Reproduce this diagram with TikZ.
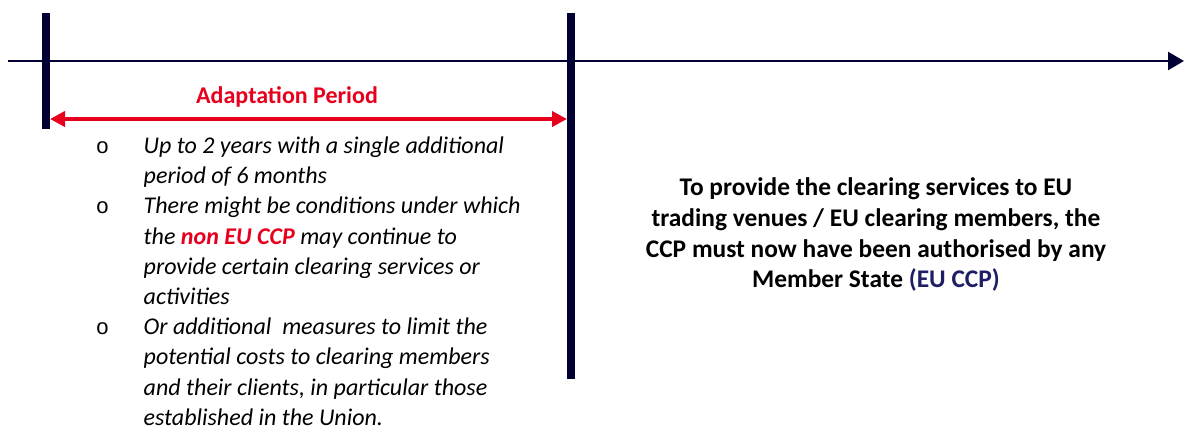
\documentclass[tikz,border=0pt]{standalone}
\usepackage{fontspec}
\setmainfont{Carlito}
\newfontfamily\bulfont{Liberation Sans}
\usetikzlibrary{arrows.meta}
\definecolor{navy}{RGB}{0,0,51}
\definecolor{eured}{RGB}{230,0,30}
\definecolor{eunavy}{RGB}{30,30,100}
\tikzset{
  bar/.style={line width=8pt, navy},
  axis/.style={line width=2.5pt, navy, -{Triangle[length=16pt,width=18pt]}},
  period/.style={line width=4pt, eured, {Triangle[length=15pt,width=15pt]}-{Triangle[length=15pt,width=15pt]}},
  ltxt/.style={anchor=base west, inner sep=0pt, font=\fontsize{24}{30}\selectfont\itshape},
  bul/.style={anchor=base, inner sep=0pt, font=\bulfont\fontsize{22}{30}\selectfont},
  rtxt/.style={anchor=base, inner sep=0pt, font=\fontsize{25.4}{31}\selectfont\bfseries},
  ptxt/.style={anchor=base, inner sep=0pt, eured, font=\fontsize{24}{30}\selectfont\bfseries},
}
\begin{document}
\begin{tikzpicture}[x=1pt,y=-1pt]
\useasboundingbox (0,0) rectangle (1187,427);
% axis
\coordinate (ta) at (8,61);
\coordinate (tb) at (1184,61);
\draw[axis] (ta) -- (tb);
% bars
\coordinate (b1t) at (46,13);
\coordinate (b1b) at (46,129);
\coordinate (b2t) at (571,13);
\coordinate (b2b) at (571,379);
\draw[bar] (b1t) -- (b1b);
\draw[bar] (b2t) -- (b2b);
% adaptation period
\coordinate (pa) at (50,119);
\coordinate (pb) at (567,119);
\draw[period] (pa) -- (pb);
\node[ptxt] (ptitle) at (287,103.5) {Adaptation Period};
% bullets
\node[bul] (o1) at (102.5,153.5) {o};
\node[bul] (o2) at (102.5,214) {o};
\node[bul] (o3) at (102.5,334.8) {o};
\node[ltxt] (l1) at (143.5,153.5) {Up to 2 years with a single additional};
\node[ltxt] (l2) at (143.5,183.7) {period of 6 months};
\node[ltxt] (l3) at (143.5,213.9) {There might be conditions under which};
\node[ltxt] (l4) at (143.5,244.1) {the {\color{eured}\bfseries non EU CCP} may continue to};
\node[ltxt] (l5) at (143.5,274.3) {provide certain clearing services or};
\node[ltxt] (l6) at (143.5,304.5) {activities};
\node[ltxt] (l7) at (143.5,334.7) {Or additional\ \ measures to limit the};
\node[ltxt] (l8) at (143.5,364.9) {potential costs to clearing members};
\node[ltxt] (l9) at (143.5,395.1) {and their clients, in particular those};
\node[ltxt] (l10) at (143.5,425.3) {established in the Union.};
% right text
\node[rtxt] (r1) at (876,196) {To provide the clearing services to EU};
\node[rtxt] (r2) at (876,226.7) {trading venues / EU clearing members, the};
\node[rtxt] (r3) at (876,257.4) {CCP must now have been authorised by any};
\node[rtxt] (r4) at (876,288) {Member State {\color{eunavy}(EU CCP)}};
\end{tikzpicture}
\end{document}
